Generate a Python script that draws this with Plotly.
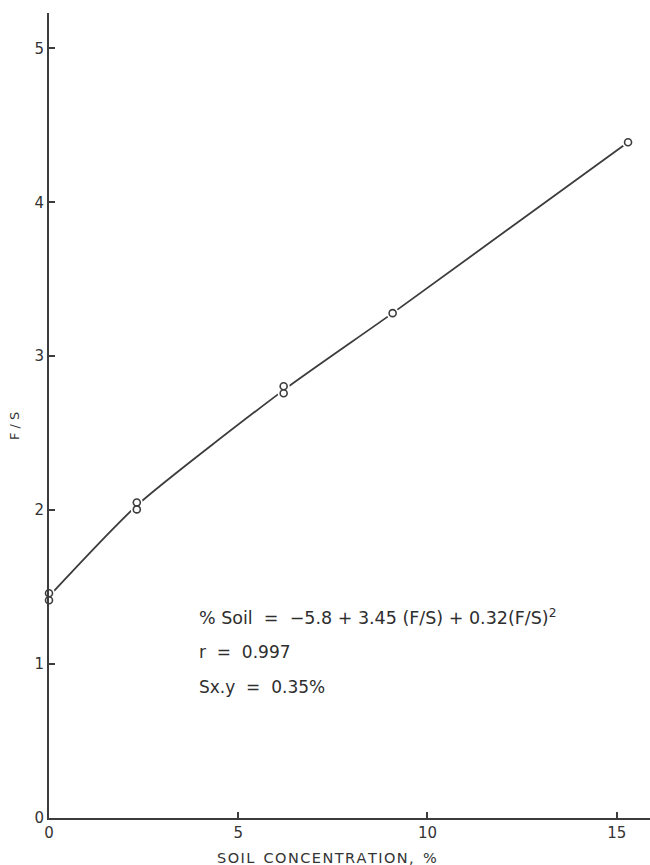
import plotly.graph_objects as go

# Observed calibration points (duplicates plotted as stacked circles)
soil_pct = [0.0, 0.0, 2.32, 2.32, 6.20, 6.20, 9.08, 15.30]
fs_ratio = [1.46, 1.415, 2.05, 2.005, 2.805, 2.76, 3.28, 4.39]

# Fitted curve vertices
curve_soil = [0.0, 2.32, 6.20, 9.08, 15.30]
curve_fs = [1.44, 2.03, 2.78, 3.28, 4.39]

x_ticks = [0, 5, 10, 15]
y_ticks = [0, 1, 2, 3, 4, 5]

INK = "#3c3c3c"
FONT = "DejaVu Sans"
HS = "\u200a"  # hair space for letter spacing

fig = go.Figure()

# regression curve
fig.add_trace(go.Scatter(
    x=curve_soil, y=curve_fs, mode="lines",
    line=dict(color=INK, width=1.8, shape="spline", smoothing=0.6),
    hoverinfo="skip", showlegend=False,
))
# white halo so the curve stops short of each circle
fig.add_trace(go.Scatter(
    x=soil_pct, y=fs_ratio, mode="markers",
    marker=dict(symbol="circle", size=12, color="white", line=dict(width=0)),
    hoverinfo="skip", showlegend=False, cliponaxis=False,
))
# hollow data circles
fig.add_trace(go.Scatter(
    x=soil_pct, y=fs_ratio, mode="markers",
    marker=dict(symbol="circle-open", size=7, color=INK, line=dict(width=1.6)),
    showlegend=False, cliponaxis=False,
))

eq_lines = [
    ("% Soil  =  −5.8 + 3.45 (F/S) + 0.32(F/S)<sup>2</sup>", 1.305, 17.5),
    ("r  =  0.997", 1.078, 17),
    ("Sx.y  =  0.35%", 0.85, 17),
]
for txt, yv, fs in eq_lines:
    fig.add_annotation(
        x=3.9, y=yv, xref="x", yref="y", text=txt, showarrow=False,
        xanchor="left", yanchor="middle",
        font=dict(family=FONT, size=fs, color="#2e2e2e"),
    )

W, H = 650, 865
ml, mb, mt = 49, 47, 13
pw, ph = W - ml, H - mb - mt

# axis titles, positioned in pixels
x_title = HS.join("SOIL") + "  " + HS.join("CONCENTRATION,") + "  %"
fig.add_annotation(
    x=(327 - ml) / pw, y=(H - mb - 858) / ph, xref="paper", yref="paper",
    text=x_title, showarrow=False, xanchor="center", yanchor="middle",
    font=dict(family=FONT, size=14.5, color="#333333"),
)
fig.add_annotation(
    x=(15 - ml) / pw, y=(H - mb - 426) / ph, xref="paper", yref="paper",
    text="F / S", textangle=-90, showarrow=False,
    xanchor="center", yanchor="middle",
    font=dict(family=FONT, size=13, color="#333333"),
)

fig.update_layout(
    width=W, height=H,
    margin=dict(l=ml, r=0, t=mt, b=mb),
    paper_bgcolor="white", plot_bgcolor="white",
    font=dict(family=FONT, color="#333333"),
    xaxis=dict(
        range=[0, 15.88], tickvals=x_ticks, ticktext=[str(v) for v in x_ticks],
        ticks="inside", ticklen=6, tickwidth=1.5, tickcolor=INK,
        showline=True, linecolor=INK, linewidth=2,
        showgrid=False, zeroline=False,
        tickfont=dict(size=15, family=FONT, color="#333333"),
    ),
    yaxis=dict(
        range=[0, 5.23], tickvals=y_ticks, ticktext=[str(v) for v in y_ticks],
        ticks="inside", ticklen=6, tickwidth=1.5, tickcolor=INK,
        showline=True, linecolor=INK, linewidth=2,
        showgrid=False, zeroline=False,
        tickfont=dict(size=15, family=FONT, color="#333333"),
    ),
)

fig.write_html("out.html")
